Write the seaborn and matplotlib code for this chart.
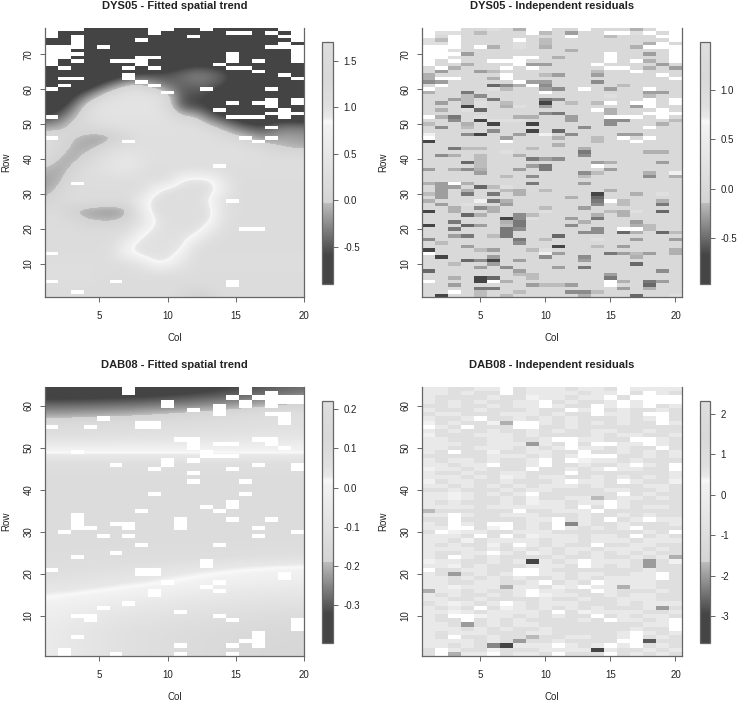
import numpy as np
import matplotlib
matplotlib.use("Agg")
import matplotlib.pyplot as plt
from matplotlib.colors import LinearSegmentedColormap, ListedColormap
import seaborn as sns

COLS = 20
DYS05_ROWS = 77
DAB08_ROWS = 64

# empty plots, row: columns
DYS05_MISSING = {
    77: [1, 2, 3, 9, 10, 13, 19, 20], 76: [1, 9, 15, 16, 18, 20], 75: [1, 3, 12, 19, 20], 74: [3, 8, 20],
    73: [3, 19], 72: [1, 2, 3, 5, 18, 19, 20], 71: [1, 2, 20], 70: [1, 2, 3, 15, 20],
    69: [1, 2, 8, 9, 15, 20], 68: [1, 3, 6, 7, 8, 15, 17, 20], 67: [1, 8, 14], 66: [2, 7, 9, 15, 16],
    65: [17], 64: [7, 19], 63: [2, 3, 7, 20], 62: [8], 61: [2, 9], 60: [1, 13, 18], 59: [10],
    57: [18, 20], 56: [15, 17, 18, 20], 55: [18], 54: [14, 19], 53: [18, 19, 20],
    52: [1, 15, 16, 17, 19], 49: [18], 46: [1, 16, 18], 45: [7, 17], 38: [14], 33: [3], 28: [15],
    20: [16, 17], 13: [1], 5: [1, 6, 15], 4: [15], 2: [3],
}
DAB08_MISSING = {
    64: [7, 16], 63: [7, 16, 18], 62: [15, 17, 18, 19, 20], 61: [10, 16, 18, 19, 20], 60: [10, 14, 16, 18],
    59: [12, 14], 58: [14, 18, 19], 57: [5, 19], 56: [8, 9, 19], 55: [1, 4, 8, 9],
    52: [11, 12, 17, 18], 51: [12, 14, 15, 18], 50: [12, 19], 49: [3, 13], 48: [13, 14, 15],
    47: [10, 12], 46: [6, 10, 17, 20], 45: [9, 15, 20], 44: [12], 42: [12, 16], 39: [9, 16],
    37: [15], 36: [13, 15], 35: [8, 14], 34: [3], 33: [3, 11, 15, 18], 32: [3, 6, 7, 11],
    31: [3, 4, 7, 11, 17], 30: [2, 20], 29: [5, 7, 17], 27: [8, 14], 25: [6], 24: [3], 23: [13],
    22: [13], 21: [1, 8, 9], 20: [8, 9, 19], 19: [19], 18: [10, 14], 17: [13], 16: [9, 14], 15: [9],
    13: [7], 12: [5], 11: [11], 10: [3, 4, 14], 9: [4, 15, 20], 8: [20], 7: [20], 6: [17],
    5: [3, 17], 4: [16, 17], 3: [11, 15, 17], 2: [2], 1: [2, 6, 11, 15],
}

# fitted trend, rows 76, 73, ... 1 by columns 1..20
DYS05_TREND = [
    [-.85] * 20,
    [-.85] * 20,
    [-.85] * 20,
    [-.85] * 10 + [-.75, -.68, -.7, -.78] + [-.85] * 6,
    [-.85] * 6 + [-.7, -.6, -.55, -.5, -.38, -.28, -.32, -.45, -.65] + [-.85] * 5,
    [-.85] * 4 + [-.6, -.3, 0, .02, -.2, -.4, -.45, -.4, -.42, -.55, -.75] + [-.85] * 5,
    [-.85, -.85, -.7, -.35, 0, .3, .4, .4, .35, .1, -.5, -.55, -.6, -.8] + [-.85] * 6,
    [-.85, -.75, -.4, .1, .35, .4, .4, .4, .4, .15, -.5, -.6, -.65] + [-.85] * 7,
    [-.6, -.45, -.1, .2, .4, .4, .4, .4, .4, .3, .05, 0, -.4, -.6, -.75] + [-.85] * 5,
    [-.15, -.1, .1, .15, .2, .3, .33, .33, .33, .33, .33, .3, .1, -.1, -.35, -.5, -.55, -.35, -.32, -.35],
    [.2, .15, 0, -.12, -.18, -.12, .1, .3, .3, .3, .3, .3, .3, .2, .1, -.05, -.22, -.15, -.15, -.18],
    [.25, .1, -.08, -.12, 0, .25, .3, .3, .3, .3, .3, .3, .3, .3, .3, .25, .15, .02, -.06, -.08],
    [.15, -.05, -.12, .05, .3, .4, .5, .4, .3, .3, .3, .3, .3, .3, .3, .3, .25, .25, .25, .25],
    [-.05, -.12, 0, .25, .3, .45, .5, .35] + [.25] * 12,
    [-.15, -.1, .15, .25, .25, .25, .25, .25, .25, .3, .9, 1, .95, .5] + [.22] * 6,
    [-.12, .02, .2, .22, .22, .22, .22, .22, .75, 1.05, 1.05, 1.05, 1.05, .7] + [.22] * 6,
    [-.02, .15, .22, .22, .22, .22, .22, .65, 1.05, 1.05, 1.05, 1.05, .86, .35] + [.22] * 6,
    [.2, .15, -.06, -.15, -.2, -.22, -.15, .45, 1.05, 1.05, 1.05, 1.05, 1.05, .4] + [.22] * 6,
    [.2, .2, .15, .02, -.02, -.02, .1, .35, .85, 1.05, 1.05, 1.05, .95, .35] + [.22] * 6,
    [.22] * 7 + [.75, 1, 1, 1, 1, .55] + [.22] * 7,
    [.22] * 6 + [.7, 1, 1, 1, 1, .5] + [.22] * 8,
    [.22] * 5 + [.35, .85, 1, 1, 1, .8] + [.22] * 9,
    [.25] * 7 + [.45, .9, .85, .45] + [.25] * 9,
    [.3, .3, .3, .3] + [.22] * 16,
    [.22] * 20,
    [.22] * 10 + [.1, -.1, 0] + [.22] * 7,
]

# fitted trend, rows 64, 62, ... 0 by columns 1, 5.75, 10.5, 15.25, 20
DAB08_TREND = [
    [-.39, -.38, -.36, -.32, -.27],
    [-.34, -.33, -.31, -.27, -.23],
    [-.275, -.27, -.25, -.22, -.16],
    [-.225, -.21, -.18, -.14, -.10],
    [-.15, -.14, -.13, -.12, -.11],
    [-.13, -.12, -.11, -.10, -.09],
    [-.09, -.09, -.08, -.07, -.06],
    [-.00, -.00, -.00, -.00, -.00],
    [.035, .035, .035, .035, .035],
    [.065, .065, .065, .065, .065],
    [.08, .08, .08, .08, .08],
    [.09, .09, .09, .09, .09],
    [.09, .09, .09, .09, .09],
    [.09, .09, .09, .09, .09],
    [.09, .09, .09, .09, .09],
    [.09, .09, .09, .09, .09],
    [.09, .09, .09, .09, .09],
    [.09, .09, .09, .09, .09],
    [.085, .085, .085, .085, .085],
    [.085, .085, .08, .075, .07],
    [.08, .075, .07, .06, .05],
    [.07, .06, .05, .03, .022],
    [.06, .05, .03, .01, -.01],
    [.05, .035, .02, -.02, -.03],
    [.035, .02, -.02, -.05, -.06],
    [.02, -.015, -.05, -.08, -.09],
    [.005, -.05, -.08, -.10, -.115],
    [-.01, -.07, -.10, -.12, -.135],
    [-.02, -.09, -.115, -.14, -.15],
    [-.03, -.10, -.13, -.15, -.16],
    [-.03, -.10, -.13, -.155, -.165],
    [-.03, -.10, -.13, -.16, -.17],
    [-.03, -.10, -.13, -.16, -.17],
]

# residual values per shade code 0 (darkest) .. 9 (palest)
DYS05_RES_LEVELS = [-.72, -.52, -.45, -.36, -.28, -.2, -.15, -.02, .14, .6]
DAB08_RES_LEVELS = [-3.6, -2.73, -2.5, -2.25, -2.03, -1.81, -1.69, -.95, -.35, .16]

# residual shade codes that differ from the usual 7, row: {column: code}
DYS05_RES = {
    77: {6: 8, 8: 5, 17: 5}, 76: {2: 8, 3: 8, 5: 6, 10: 6, 12: 4, 17: 8}, 75: {15: 6},
    74: {1: 8, 2: 6, 10: 6}, 73: {1: 8, 2: 8, 8: 8, 10: 6, 18: 5}, 72: {6: 5, 8: 8, 10: 5, 17: 5},
    71: {3: 8, 12: 5}, 70: {4: 4, 18: 4}, 69: {3: 8, 11: 5}, 68: {18: 5},
    67: {4: 5, 9: 4, 10: 4, 19: 4}, 66: {3: 5, 18: 5, 20: 4}, 65: {2: 4, 5: 4, 6: 6, 14: 6},
    64: {1: 5, 10: 6, 11: 4, 14: 4}, 63: {1: 5, 6: 5}, 62: {1: 3, 2: 4, 9: 4, 10: 4, 14: 3},
    61: {6: 1, 7: 3, 8: 5, 10: 3, 16: 6}, 60: {6: 8, 7: 6, 10: 4, 11: 3, 15: 4, 18: 4},
    59: {1: 5, 4: 2, 18: 4, 19: 4}, 58: {4: 6, 5: 3, 15: 8, 18: 6},
    57: {3: 4, 4: 6, 6: 2, 10: 2, 11: 3}, 56: {2: 4, 4: 6, 5: 8, 7: 6, 10: 0, 12: 6, 14: 6},
    55: {4: 0, 5: 8, 7: 5, 8: 8, 10: 4, 17: 4}, 54: {2: 5, 4: 8, 5: 1, 15: 5},
    53: {10: 3, 11: 2, 15: 5}, 52: {2: 5, 3: 2, 5: 8, 8: 5, 9: 5, 12: 4},
    51: {3: 3, 5: 0, 6: 8, 7: 8, 8: 8, 12: 4, 15: 3, 16: 3, 20: 6}, 50: {1: 6, 4: 5, 6: 0, 9: 0, 15: 3, 19: 5},
    49: {2: 3, 4: 6, 9: 8, 13: 3}, 48: {6: 3, 9: 0, 11: 1},
    47: {1: 9, 4: 3, 5: 0, 8: 4, 10: 9, 12: 3, 16: 4, 17: 4}, 46: {7: 4, 11: 5, 14: 6},
    45: {1: 0, 14: 6}, 44: {11: 5}, 43: {3: 2, 4: 6, 5: 6, 9: 6, 13: 5},
    42: {7: 8, 13: 2, 18: 5, 19: 5}, 41: {2: 3, 3: 5, 5: 6, 8: 5, 13: 3}, 40: {5: 6, 9: 2, 10: 4, 11: 3},
    39: {4: 1, 5: 6, 14: 4, 15: 5, 19: 4}, 38: {5: 6, 9: 4, 10: 2, 15: 8},
    37: {1: 4, 3: 5, 4: 3, 5: 5, 8: 4, 10: 2, 15: 4}, 36: {5: 4, 13: 3, 14: 6, 18: 5, 20: 9},
    35: {7: 6, 9: 3, 13: 6, 18: 3, 20: 5}, 33: {1: 5, 2: 4, 4: 5, 9: 2, 13: 4},
    32: {2: 4, 3: 4, 5: 1, 6: 6, 7: 8}, 31: {2: 4, 4: 5, 7: 6, 8: 5, 10: 6, 15: 5},
    30: {1: 6, 2: 4, 4: 2, 6: 2, 8: 5, 14: 0, 17: 5, 19: 8}, 29: {2: 4, 12: 5, 14: 1},
    28: {1: 5, 5: 9, 6: 2, 7: 5, 14: 2, 16: 6, 19: 5}, 27: {2: 4, 4: 8, 7: 4, 14: 3, 16: 6, 19: 2},
    26: {3: 5, 5: 3, 6: 5, 10: 6, 13: 4}, 25: {1: 0, 3: 5, 6: 5, 10: 8, 15: 6, 16: 5, 17: 8, 19: 1},
    24: {4: 1, 5: 5, 8: 3, 9: 6, 14: 5, 16: 5}, 23: {7: 0, 8: 3, 9: 8, 12: 4, 14: 2},
    22: {3: 2, 7: 5, 8: 2, 13: 5, 17: 4}, 21: {1: 0, 4: 1, 5: 4, 7: 6, 8: 2, 12: 3, 17: 5, 18: 6},
    20: {3: 2, 7: 2, 8: 3, 14: 3, 18: 6}, 19: {7: 2, 13: 3, 14: 3, 16: 1, 17: 5, 19: 1, 20: 6},
    18: {3: 4, 4: 2, 6: 6, 7: 2, 11: 1}, 17: {1: 3, 8: 2, 10: 6, 14: 8, 17: 4, 20: 4},
    16: {2: 6, 8: 3}, 15: {4: 4, 11: 0, 14: 6, 16: 4}, 14: {1: 0, 5: 6, 6: 4, 9: 6, 10: 8, 20: 5},
    13: {10: 9, 11: 4, 15: 2, 16: 4, 17: 6, 18: 4, 20: 5}, 12: {2: 0, 6: 4, 10: 3, 13: 3, 17: 5},
    11: {4: 1, 5: 3, 6: 0, 8: 4, 13: 4}, 10: {3: 6, 6: 4, 17: 1}, 9: {5: 4, 7: 3, 11: 4, 13: 2},
    8: {1: 1, 8: 4, 19: 3}, 7: {8: 6, 9: 6, 15: 4}, 6: {3: 5, 5: 0, 6: 1, 9: 6, 15: 2},
    5: {5: 0, 7: 5, 16: 5, 18: 2, 19: 4}, 4: {3: 4, 9: 4, 10: 6, 11: 6, 12: 4, 18: 1},
    3: {5: 2, 6: 2, 16: 4, 18: 5}, 2: {5: 6, 8: 6, 12: 3, 13: 3, 14: 6},
    1: {2: 0, 5: 6, 7: 6, 13: 5, 17: 1, 20: 8},
}
DAB08_RES = {
    56: {7: 5}, 51: {9: 4}, 38: {14: 6}, 35: {1: 6}, 32: {12: 3}, 24: {20: 5}, 23: {9: 0, 18: 4},
    22: {18: 4}, 20: {3: 4}, 17: {7: 5, 16: 5}, 16: {1: 5}, 12: {19: 4}, 8: {4: 4}, 5: {9: 6},
    4: {8: 4, 18: 1}, 3: {6: 3, 7: 0}, 2: {14: 0}, 1: {3: 5},
}
# pale shades of the DAB08 residuals, rows 64 .. 1
DAB08_RES_PALE = [
    "88778877888788778888", "88787777888878877887", "87777877988788778787", "87878778887877878797",
    "77877878878777888778", "87778777877887787787", "78877788878778887877", "87787778787877787877",
    "97877978887878787788", "78777777777877777777", "87877877878778877877", "97778887877778788778",
    "88777887787788777887", "88877888887878788787", "88778887878888787777", "87877977887777787878",
    "77777888787888777878", "87887877877998878777", "88788777887787787877", "98878777877878788777",
    "87787788777877777778", "88878798788778787878", "97887787778888778779", "88787878788878777887",
    "77877787887777887787", "88987878977777777877", "88987787977887788787", "87877787988788787777",
    "88887888888777787887", "87777778778888777777", "88787788877787787877", "77777777888787778888",
    "87787787877787787778", "88977977877878787777", "78988778887777777877", "88878787988878878787",
    "88797888878878887888", "87877977878777778877", "88887878787887888787", "87788787987878787877",
    "87887877778778778788", "98877878887878887879", "88978777888778787877", "87788778887777777877",
    "87878787888788778887", "88787878778787888877", "88778877887877888877", "88988888879878878877",
    "78878778888777877787", "87877878998877878877", "88778777787787788877", "78987878788877787888",
    "87878798787878777887", "88987888877798888778", "87799887878777787887", "87787878777787788788",
    "88787878877777777889", "88878787787777778779", "87888777887777788878", "87977877877887787787",
    "88887878778777777877", "88787898887878788787", "77877977788887877878", "77788878877777878787",
]

# colour bar and tick values
DYS05_TREND_RANGE = [-.897, 1.70]
DYS05_RES_RANGE = [-.97, 1.49]
DAB08_TREND_RANGE = [-.397, .221]
DAB08_RES_RANGE = [-3.67, 2.32]
DYS05_TREND_TICKS = [-.5, 0, .5, 1, 1.5]
DYS05_RES_TICKS = [-.5, 0, .5, 1]
DAB08_TREND_TICKS = [-.3, -.2, -.1, 0, .1, .2]
DAB08_RES_TICKS = [-3, -2, -1, 0, 1, 2]
DYS05_ROW_TICKS = [10, 20, 30, 40, 50, 60, 70]
DAB08_ROW_TICKS = [10, 20, 30, 40, 50, 60]
COL_TICKS = [5, 10, 15, 20]

sns.set_theme(style="white")
plt.rcParams["font.family"] = ["Liberation Sans", "DejaVu Sans"]
plt.rcParams["axes.unicode_minus"] = False

W, H = 738, 702
INK = "#222222"
FRAME = "#666666"
FONT = 7

greys = LinearSegmentedColormap.from_list("grey_ramp", [
    (0, "0.27"), (.12, "0.27"), (.335, "0.74"), (.3351, "0.83"), (.655, "0.95"), (.672, "0.975"),
    (.69, "0.91"), (.74, "0.875"), (.85, "0.85"), (1, "0.87"),
], N=1024)


def px_axes(fig, left, top, right, bottom):
    return fig.add_axes([left / W, 1 - bottom / H, (right - left) / W, (bottom - top) / H])


def missing_grid(nrows, missing):
    out = np.zeros((nrows, COLS), dtype=bool)
    for row, cols in missing.items():
        for c in cols:
            out[nrows - row, c - 1] = True
    return out


def residual_grid(nrows, cells, levels, pale=None):
    codes = np.full((nrows, COLS), 7)
    if pale is not None:
        codes = np.array([[int(ch) for ch in line] for line in pale])
    for row, cols in cells.items():
        for c, code in cols.items():
            codes[nrows - row, c - 1] = code
    return np.array(levels)[codes]


def style_panel(ax, title, nrows, row_ticks, col_pos):
    ax.set_xlim(0, COLS)
    ax.set_ylim(nrows, 0)
    ax.set_xticks(col_pos)
    ax.set_xticklabels([str(c) for c in COL_TICKS])
    ax.set_yticks([nrows + .5 - r for r in row_ticks])
    ax.set_yticklabels([str(r) for r in row_ticks], rotation=90, va="center")
    ax.tick_params(axis="x", length=3.6, width=.7, color=FRAME, labelsize=FONT, labelcolor=INK, pad=6.5,
                   bottom=True, rotation=0)
    ax.tick_params(axis="y", length=3.6, width=.7, color=FRAME, labelsize=FONT, labelcolor=INK, pad=4.5, left=True)
    for side in ["left", "bottom", "right"]:
        ax.spines[side].set_visible(True)
        ax.spines[side].set_color(FRAME)
        ax.spines[side].set_linewidth(.9)
    ax.spines["top"].set_visible(False)
    ax.set_xlabel("Col", fontsize=FONT, color=INK)
    ax.set_ylabel("Row", fontsize=FONT, color=INK)
    ax.xaxis.set_label_coords(.5, -.134)
    ax.yaxis.set_label_coords(-.13, .5)
    ax.set_title(title, fontsize=8, fontweight="bold", color=INK, pad=13.5)


def style_bar(cbar, ticks, fmt):
    cbar.set_ticks(ticks)
    cbar.set_ticklabels([fmt.format(t) for t in ticks])
    cbar.ax.tick_params(axis="y", right=True, length=3.6, width=.7, color=FRAME, labelsize=FONT, labelcolor=INK, pad=4)
    cbar.outline.set_edgecolor(FRAME)
    cbar.outline.set_linewidth(.9)


def trend_panel(fig, box, bar_box, title, nrows, trend, knot_rows, missing, vrange, ticks, fmt, row_ticks):
    ax = px_axes(fig, *box)
    cax = px_axes(fig, *bar_box)
    trend = np.array(trend)
    dx = COLS / (trend.shape[1] - 1)
    dy = abs(knot_rows[1] - knot_rows[0])
    # spline the fitted surface across the field, then blank the empty plots on top
    im = ax.imshow(trend, cmap=greys, vmin=vrange[0], vmax=vrange[1], aspect="auto", interpolation="bicubic",
                   interpolation_stage="data",
                   extent=(-dx / 2, COLS + dx / 2, nrows + .5 - knot_rows[-1] + dy / 2, nrows + .5 - knot_rows[0] - dy / 2))
    gaps = missing_grid(nrows, missing)
    sns.heatmap(gaps.astype(float), mask=~gaps, cmap=ListedColormap(["white"]), vmin=0, vmax=1, cbar=False,
                xticklabels=False, yticklabels=False, ax=ax)
    style_panel(ax, title, nrows, row_ticks, [(c - 1) * COLS / (COLS - 1) for c in COL_TICKS])
    style_bar(fig.colorbar(im, cax=cax), ticks, fmt)


def residual_panel(fig, box, bar_box, title, nrows, values, missing, vrange, ticks, fmt, row_ticks):
    ax = px_axes(fig, *box)
    cax = px_axes(fig, *bar_box)
    gaps = missing_grid(nrows, missing)
    sns.heatmap(values, mask=gaps, cmap=greys, vmin=vrange[0], vmax=vrange[1], cbar_ax=cax,
                xticklabels=False, yticklabels=False, ax=ax)
    style_panel(ax, title, nrows, row_ticks, [c - .5 for c in COL_TICKS])
    style_bar(ax.collections[0].colorbar, ticks, fmt)


fig = plt.figure(figsize=(W / 100, H / 100), dpi=100, facecolor="white")

trend_panel(fig, (44.7, 28, 304, 297), (322, 42, 333, 284), "DYS05 - Fitted spatial trend", DYS05_ROWS,
            DYS05_TREND, list(range(76, 0, -3)), DYS05_MISSING, DYS05_TREND_RANGE, DYS05_TREND_TICKS,
            "{:.1f}", DYS05_ROW_TICKS)
residual_panel(fig, (421.7, 28, 682, 297), (699.5, 42, 710, 284), "DYS05 - Independent residuals", DYS05_ROWS,
               residual_grid(DYS05_ROWS, DYS05_RES, DYS05_RES_LEVELS), DYS05_MISSING, DYS05_RES_RANGE,
               DYS05_RES_TICKS, "{:.1f}", DYS05_ROW_TICKS)
trend_panel(fig, (44.7, 387, 304, 656), (322, 401, 333, 643), "DAB08 - Fitted spatial trend", DAB08_ROWS,
            DAB08_TREND, list(range(64, -1, -2)), DAB08_MISSING, DAB08_TREND_RANGE, DAB08_TREND_TICKS,
            "{:.1f}", DAB08_ROW_TICKS)
residual_panel(fig, (421.7, 387, 682, 656), (699.5, 401, 710, 643), "DAB08 - Independent residuals", DAB08_ROWS,
               residual_grid(DAB08_ROWS, DAB08_RES, DAB08_RES_LEVELS, DAB08_RES_PALE), DAB08_MISSING,
               DAB08_RES_RANGE, DAB08_RES_TICKS, "{:.0f}", DAB08_ROW_TICKS)

fig.savefig("out.png", dpi=100)
